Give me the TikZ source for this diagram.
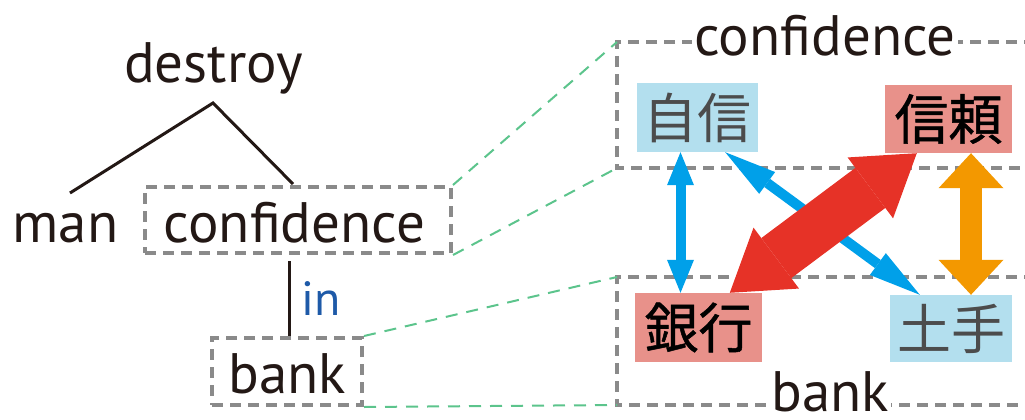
\documentclass[tikz,border=0pt]{standalone}
\usepackage{fontspec}
\setmainfont{PT Sans}
\newfontfamily\cjk{Noto Sans CJK JP}
\newfontfamily\cjkm[FakeBold=0.9]{Noto Sans CJK JP}
\usetikzlibrary{arrows.meta}
\definecolor{ink}{HTML}{231815}
\definecolor{dgray}{HTML}{8A8A8A}
\definecolor{lgreen}{HTML}{5CC48C}
\definecolor{inblue}{HTML}{1E5AA8}
\definecolor{lblue}{HTML}{B3DFEE}
\definecolor{salmon}{HTML}{E8918A}
\definecolor{arrblue}{HTML}{00A0E9}
\definecolor{arrred}{HTML}{E63227}
\definecolor{arrorange}{HTML}{F39800}
\begin{document}
\begin{tikzpicture}[x=1pt,y=-1pt,
  word/.style={inner sep=0pt, text=ink, font=\fontsize{57}{60}\selectfont, anchor=base},
  dbox/.style={draw=dgray, line width=4pt, dash pattern=on 11pt off 7pt},
  greenline/.style={draw=lgreen, line width=2pt, dash pattern=on 12pt off 9pt},
  treeline/.style={draw=ink, line width=3pt},
  cjkbox/.style={inner sep=0pt, font=\cjk\fontsize{54}{56}\selectfont},
  pale/.style={cjkbox, fill=lblue, text=black!70},
  strong/.style={cjkbox, fill=salmon, text=black, font=\cjkm\fontsize{54}{56}\selectfont},
  bluearr/.style={draw=arrblue, line width=10pt,
    {Triangle[width=27pt,length=33pt,line width=0pt]}-{Triangle[width=27pt,length=33pt,line width=0pt]}},
  bluediag/.style={draw=arrblue, line width=10pt,
    {Triangle[width=27pt,length=52pt,line width=0pt]}-{Triangle[width=27pt,length=52pt,line width=0pt]}},
  redarr/.style={draw=arrred, line width=50pt,
    {Triangle[width=76pt,length=58pt,line width=0pt]}-{Triangle[width=76pt,length=58pt,line width=0pt]}},
  orangearr/.style={draw=arrorange, line width=22pt,
    {Triangle[width=65pt,length=35pt,line width=0pt]}-{Triangle[width=65pt,length=35pt,line width=0pt]}}
]
\path[use as bounding box] (0,0) rectangle (1025,420);
\clip (0,0) rectangle (1025,420);

% ---------- tree ----------
\node[word] (destroy) at (213.5,82) {destroy};
\node[word] (man) at (65.5,242) {man};
\node[word] (confw) at (294.5,242) {confidence};
\node[dbox, minimum width=306pt, minimum height=66pt, inner sep=0pt] (confbox) at (298,220) {};
\node[word] (bankw) at (287.5,393) {bank};
\node[dbox, minimum width=150pt, minimum height=67pt, inner sep=0pt] (bankbox) at (287,371.5) {};
\node[word, text=inblue, font=\fontsize{48}{50}\selectfont] (in) at (321,315) {in};

\coordinate (apex) at (213,103);
\coordinate (manTop) at (70,193);
\coordinate (confTop) at (293,184);
\coordinate (inTop) at (289,261);
\coordinate (inBot) at (289,336);
\draw[treeline] (manTop) -- (apex) -- (confTop);
\draw[treeline] (inTop) -- (inBot);

% ---------- right panels ----------
\coordinate (cTL) at (617,42);
\coordinate (cBL) at (617,168);
\coordinate (cTR) at (1035,42);
\coordinate (cBR) at (1035,168);
\coordinate (bTL) at (617,277);
\coordinate (bBL) at (617,405);
\coordinate (bTR) at (1035,277);
\coordinate (bBR) at (1035,405);
\draw[dbox] (cTR) -- (cTL) -- (cBL) -- (cBR);
\draw[dbox] (bTR) -- (bTL) -- (bBL) -- (bBR);
\node[word, fill=white, inner xsep=2pt] (confl) at (825,56) {confidence};
\node[word, fill=white, inner xsep=2pt, text depth=0pt] (bankl) at (830,411) {bank};

% green links
\draw[greenline] (confbox.north east) -- (cTL);
\draw[greenline] (confbox.south east) -- (cBL);
\draw[greenline] (bankbox.north east) -- (bTL);
\draw[greenline] (bankbox.south east) -- (bBL);

% ---------- word boxes ----------
\node[pale, minimum width=121pt, minimum height=69pt] (jishin) at (697.5,117.5) {自信};
\node[strong, minimum width=127pt, minimum height=68pt] (shinrai) at (948.5,119) {信頼};
\node[strong, minimum width=127pt, minimum height=69pt] (ginko) at (698.5,327.5) {銀行};
\node[pale, minimum width=122pt, minimum height=67pt] (dote) at (951,328.5) {土手};

% ---------- arrows ----------
\draw[bluearr] ([xshift=-17pt]jishin.south) -- ([xshift=-18pt]ginko.north);
\draw[bluediag] ([xshift=-33pt]jishin.south east) -- ([xshift=30pt]dote.north west);
\draw[redarr] ([xshift=95pt]ginko.north west) -- ([xshift=32pt]shinrai.south west);
\draw[orangearr] ([xshift=22.5pt]shinrai.south) -- ([xshift=20pt]dote.north);
\end{tikzpicture}
\end{document}
